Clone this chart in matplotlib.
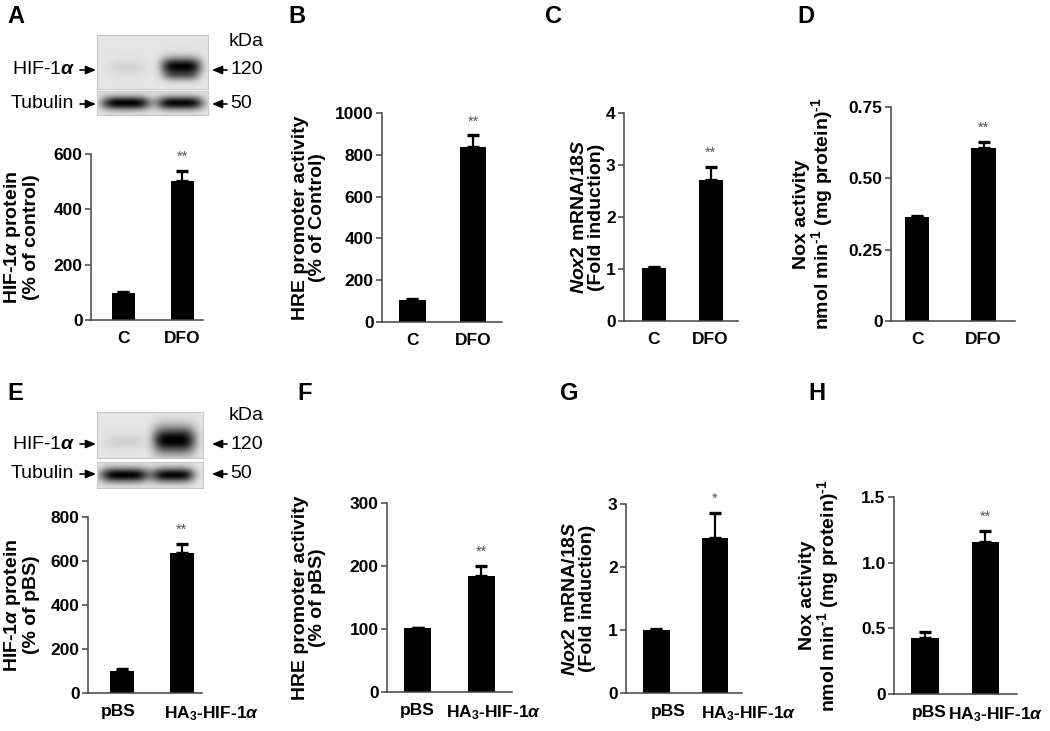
import numpy as np
import matplotlib
matplotlib.use("Agg")
import matplotlib.pyplot as plt
from matplotlib.patches import FancyArrowPatch

plt.rcParams['font.family'] = ['Liberation Sans', 'DejaVu Sans']
plt.rcParams['mathtext.fontset'] = 'custom'
plt.rcParams['mathtext.rm'] = 'Liberation Sans:bold'
plt.rcParams['mathtext.it'] = 'Liberation Sans:italic:bold'
plt.rcParams['mathtext.bf'] = 'Liberation Sans:bold'

# ---------------- data ----------------
cats_top = ["C", "DFO"]
cats_bot = ["pBS", r"HA$_3$-HIF-1$\alpha$"]

A_vals = [97, 502];     A_err = [3, 36]
B_vals = [105, 838];    B_err = [3, 55]
C_vals = [1.02, 2.71];  C_err = [0.02, 0.26]
D_vals = [0.364, 0.606]; D_err = [0.005, 0.021]
E_vals = [100, 637];    E_err = [8, 41]
F_vals = [101, 184];    F_err = [1, 16]
G_vals = [1.0, 2.46];   G_err = [0.02, 0.40]
H_vals = [0.424, 1.16]; H_err = [0.047, 0.08]

A_ticks = [0, 200, 400, 600];      A_tl = ["0", "200", "400", "600"]
B_ticks = [0, 200, 400, 600, 800, 1000]; B_tl = ["0", "200", "400", "600", "800", "1000"]
C_ticks = [0, 1, 2, 3, 4];         C_tl = ["0", "1", "2", "3", "4"]
D_ticks = [0, 0.25, 0.50, 0.75];   D_tl = ["0", "0.25", "0.50", "0.75"]
E_ticks = [0, 200, 400, 600, 800]; E_tl = ["0", "200", "400", "600", "800"]
F_ticks = [0, 100, 200, 300];      F_tl = ["0", "100", "200", "300"]
G_ticks = [0, 1, 2, 3];            G_tl = ["0", "1", "2", "3"]
H_ticks = [0, 0.5, 1.0, 1.5];      H_tl = ["0", "0.5", "1.0", "1.5"]

A_sig = "**"; B_sig = "**"; C_sig = "**"; D_sig = "**"
E_sig = "**"; F_sig = "**"; G_sig = "*";  H_sig = "**"

A_ylab = "HIF-1$\\alpha$ protein\n(% of control)"
B_ylab = "HRE promoter activity\n(% of Control)"
C_ylab = "$\\mathit{Nox2}$ mRNA/$\\mathit{18S}$\n(Fold induction)"
D_ylab = "Nox activity\nnmol min$^{\\text{-}1}$ (mg protein)$^{\\text{-}1}$"
E_ylab = "HIF-1$\\alpha$ protein\n(% of pBS)"
F_ylab = "HRE promoter activity\n(% of pBS)"
G_ylab = C_ylab
H_ylab = D_ylab

W, H = 1050, 731
fig = plt.figure(figsize=(W / 100, H / 100), dpi=100)


def rect(l, t, r, b):
    return [l / W, 1 - b / H, (r - l) / W, (b - t) / H]


def panel(box, xlim, width, cats, vals, errs, ticks, tl, sig, ylab, ylab_x, lab_dx=(0, 0)):
    l, t, r, b = box
    ax = fig.add_axes(rect(l, t, r, b))
    x = np.arange(len(vals))
    ax.bar(x, vals, width=width, color='black', edgecolor='none', zorder=2)
    lower = [0] * len(errs)
    ax.errorbar(x, vals, yerr=[lower, errs], fmt='none', ecolor='black',
                elinewidth=1.6, capsize=4.2, capthick=2.4, zorder=3)
    ax.set_xlim(*xlim)
    ax.set_ylim(0, ticks[-1])
    ax.set_yticks(ticks)
    ax.set_yticklabels(tl, fontsize=12.5, fontweight='bold')
    ax.set_xticks(x)
    ax.set_xticklabels([])
    for xi, lab, dx in zip(x, cats, lab_dx):
        ax.annotate(lab, (xi, 0), xycoords=('data', 'axes fraction'),
                    xytext=(dx * 0.72, -8), textcoords='offset points',
                    ha='center', va='top', fontsize=12.5, fontweight='bold')
    ax.tick_params(axis='x', length=0)
    ax.tick_params(axis='y', length=4, width=1.1, direction='out', pad=2, color='#444444')
    for s in ['top', 'right']:
        ax.spines[s].set_visible(False)
    for s in ['left', 'bottom']:
        ax.spines[s].set_color('#444444')
        ax.spines[s].set_linewidth(1.1)
    top = vals[1] + errs[1]
    ax.annotate(sig, (x[1], top), xytext=(0, 5), textcoords='offset points',
                ha='center', va='bottom', fontsize=10.5, color='#555555')
    fig.text(ylab_x / W, 1 - ((t + b) / 2) / H, ylab, rotation=90, ha='center',
             va='center', multialignment='center', fontsize=14, fontweight='bold',
             linespacing=1.0)
    return ax


panel((91, 154, 203, 320), (-0.55, 1.35), 0.38, cats_top, A_vals, A_err, A_ticks, A_tl, A_sig, A_ylab, 21)
panel((382, 113, 502, 322), (-0.5, 1.47), 0.43, cats_top, B_vals, B_err, B_ticks, B_tl, B_sig, B_ylab, 309)
panel((624, 113, 738, 321), (-0.52, 1.48), 0.42, cats_top, C_vals, C_err, C_ticks, C_tl, C_sig, C_ylab, 588)
panel((891, 107, 1015, 321), (-0.39, 1.47), 0.37, cats_top, D_vals, D_err, D_ticks, D_tl, D_sig, D_ylab, 814)
panel((88, 517, 202, 693), (-0.57, 1.34), 0.40, cats_bot, E_vals, E_err, E_ticks, E_tl, E_sig, E_ylab, 21, (-4, 30))
panel((387, 503, 512, 692), (-0.48, 1.48), 0.42, cats_bot, F_vals, F_err, F_ticks, F_tl, F_sig, F_ylab, 309, (0, 12))
panel((626, 504, 742, 693), (-0.52, 1.46), 0.45, cats_bot, G_vals, G_err, G_ticks, G_tl, G_sig, G_ylab, 579, (12, 33))
panel((894, 497, 1017, 694), (-0.51, 1.52), 0.46, cats_bot, H_vals, H_err, H_ticks, H_tl, H_sig, H_ylab, 820, (4, 10))

# panel letters
for letter, (px, py) in zip("ABCDEFGH", [(7, 23), (288, 23), (545, 23), (797, 23),
                                          (7, 400), (297, 400), (560, 400), (808, 400)]):
    fig.text(px / W, 1 - py / H, letter, fontsize=17, fontweight='bold', ha='left', va='baseline')


# ---------------- western blots ----------------
def band_img(nx, ny, bands, bg=0.9):
    xs = np.linspace(0, 1, nx)[None, :]
    ys = np.linspace(0, 1, ny)[:, None]
    img = np.full((ny, nx), bg)
    for cx, cy, hw, hh, dark in bands:
        d = np.abs((xs - cx) / hw) ** 4 + ((ys - cy) / hh) ** 2
        img = img - dark * np.exp(-d)
    return np.clip(img, 0, 1)


def blot(l, t, r, b, bands):
    ax = fig.add_axes(rect(l, t, r, b))
    img = band_img(220, 100, bands)
    ax.imshow(img, cmap='gray', vmin=0, vmax=1, aspect='auto', interpolation='bilinear')
    ax.set_xticks([]); ax.set_yticks([])
    for s in ax.spines.values():
        s.set_color('#c8c8c8'); s.set_linewidth(0.8)


# Panel A blots
blot(97, 35, 208, 89, [(0.27, 0.60, 0.17, 0.14, 0.07), (0.76, 0.58, 0.18, 0.16, 0.88), (0.76, 0.76, 0.16, 0.10, 0.3)])
blot(97, 91, 208, 115, [(0.26, 0.50, 0.22, 0.28, 0.9), (0.75, 0.50, 0.21, 0.28, 0.88)])
# Panel E blots
blot(97, 412, 203, 458, [(0.26, 0.65, 0.19, 0.16, 0.08), (0.73, 0.62, 0.20, 0.28, 0.92)])
blot(97, 462, 203, 488, [(0.26, 0.50, 0.23, 0.28, 0.9), (0.72, 0.50, 0.20, 0.28, 0.88)])

lab_kw = dict(fontsize=14, family=['Liberation Sans', 'DejaVu Sans'])
arrow_kw = dict(arrowstyle='-|>,head_length=0.6,head_width=0.25', mutation_scale=10,
                color='black', lw=1.2, shrinkA=0, shrinkB=0)
for (y_hif, y_tub, y_kda) in [(70, 104, 41), (444, 474, 416)]:
    fig.text(76 / W, 1 - y_hif / H, "HIF-1$\\alpha$", ha='right', va='center', **lab_kw)
    fig.text(74 / W, 1 - y_tub / H, "Tubulin", ha='right', va='center', **lab_kw)
    fig.text(230 / W, 1 - y_hif / H, "120", ha='left', va='center', **lab_kw)
    fig.text(230 / W, 1 - y_tub / H, "50", ha='left', va='center', **lab_kw)
    fig.text(264 / W, 1 - y_kda / H, "kDa", ha='right', va='center', **lab_kw)
    for yy in (y_hif, y_tub):
        fig.add_artist(FancyArrowPatch((80 / W, 1 - yy / H), (96 / W, 1 - yy / H),
                                       transform=fig.transFigure, **arrow_kw))
        fig.add_artist(FancyArrowPatch((227 / W, 1 - yy / H), (212 / W, 1 - yy / H),
                                       transform=fig.transFigure, **arrow_kw))

fig.savefig("out.png", dpi=100)
